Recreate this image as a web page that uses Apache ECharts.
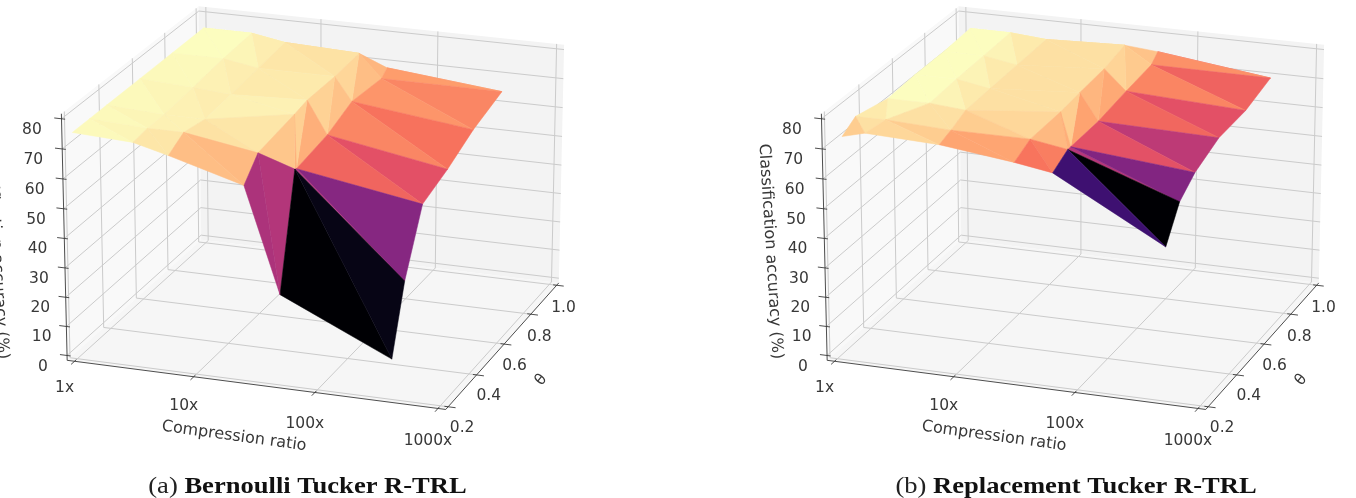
<!DOCTYPE html>
<html><head><meta charset="utf-8">
<style>html,body{margin:0;background:#fff}#c{width:1356px;height:498px}</style>
<script src="https://cdn.jsdelivr.net/npm/echarts@6/dist/echarts.min.js"></script>
</head><body><div id="c"></div><script>
// Surface samples, one row per theta sweep (back to front), one column per compression setting.
// Compression is stored as log10 of the ratio.
const thetaA=[
[1,1,1,1,1,.961],[1,1,1,1,.9415,.961],[.8,.8,.8,.8,.7025,.761],[.6,.6,.6,.6,.522,.561],
[.4,.4,.4,.478,.334,.38],[.3,.3,.3,.3,.3,.3],[.2,.2,.2,.2,.2,.2]];
const ratioA=[
[0,.42,.71,1.35,1.59,2.61],[0,.42,.71,1.35,1.613,2.61],[0,.44,.74,1.39,1.655,2.6],[0,.45,.77,1.41,1.675,2.62],
[0,.48,.82,1.46,1.66,2.63],[0,.48,.78,1.39,1.69,2.585],[0,.5,.79,1.405,1.695,2.605]];
const accuracyA=[
[75,75,73,72,68,66],[75,75,73,72,67,66],[75,75,73,73,70,62],[75,74,73,74,67,58],
[75,74,74,75,64.4,55],[75,74,74,70,66,33],[75,74,71,64,29,12]];
const thetaB=[
[.961,.961,.961,.98,1,.961],[.961,.961,.961,.98,.883,.961],[.78,.78,.761,.8,.689,.761],[.6,.6,.58,.62,.527,.561],
[.42,.42,.42,.478,.3,.361],[.3,.3,.3,.3,.3,.3],[.2,.2,.2,.2,.2,.2]];
const ratioB=[
[.11,.46,.77,1.42,1.68,2.68],[.11,.46,.77,1.42,1.766,2.68],[.13,.47,.78,1.47,1.79,2.7],[.13,.48,.79,1.49,1.76,2.71],
[.15,.5,.8,1.51,1.82,2.75],[.05,.3,.84,1.49,1.795,2.7],[.08,.27,.88,1.49,1.8,2.71]];
const accuracyB=[
[77,77,76,76,74,71],[77,77,76,76,75,71],[77,77,76,76,74.7,69],[77,77,76,76,71.75,69],
[77,77,76,76,74,67],[76,76,75,75,73,60],[74,76,75,72,70,50]];
const ratioTicks=[0,1,2,3],ratioLabels=['1x','10x','100x','1000x'];
const thetaTicks=[.2,.4,.6,.8,1],thetaLabels=['0.2','0.4','0.6','0.8','1.0'];
const accuracyTicks=[0,10,20,30,40,50,60,70,80];

// Perspective camera; the hidden value axes carry the projection plane onto the page.
const cam={elev:22,azim:-70.5,dist:15,sx:4970,sy:4390,cx:318,cy:201,dx:760};
const lim={x:[-.0625,3.0625],y:[.18333,1.01667],z:[-1.67,81.67]};
const k=1.8294640721620434*25/24/Math.sqrt(41),B=[4*k,4*k*.95,3*k];
const rad=Math.PI/180,ce=Math.cos(cam.elev*rad),se=Math.sin(cam.elev*rad),ca=Math.cos(cam.azim*rad),sa=Math.sin(cam.azim*rad);
const W=[ca*ce,sa*ce,se],E=[B[0]/2+cam.dist*W[0],B[1]/2+cam.dist*W[1],B[2]/2+cam.dist*W[2]];
const cross=(a,b)=>[a[1]*b[2]-a[2]*b[1],a[2]*b[0]-a[0]*b[2],a[0]*b[1]-a[1]*b[0]];
const dot=(a,b)=>a[0]*b[0]+a[1]*b[1]+a[2]*b[2];
let U=cross([0,0,1],W);const ul=Math.sqrt(dot(U,U));U=U.map(v=>v/ul);const V=cross(W,U);
function proj(x,y,z){
  const p=[(x-lim.x[0])/(lim.x[1]-lim.x[0])*B[0]-E[0],(y-lim.y[0])/(lim.y[1]-lim.y[0])*B[1]-E[1],(z-lim.z[0])/(lim.z[1]-lim.z[0])*B[2]-E[2]];
  const d=-dot(p,W);
  return [dot(p,U)/d,dot(p,V)/d,d];
}
// Magma colour ramp.
const magma=['#000004','#140e36','#3b0f70','#641a80','#8c2981','#b73779','#de4968','#f7705c','#fe9f6d','#fecf92','#fcfdbf'].map(h=>[1,3,5].map(i=>parseInt(h.substr(i,2),16)));
function cmap(t){
  t=Math.min(1,Math.max(0,t))*10;
  const i=Math.min(9,Math.floor(t)),f=t-i;
  return 'rgb('+[0,1,2].map(c=>Math.round(magma[i][c]+(magma[i+1][c]-magma[i][c])*f)).join(',')+')';
}
function panel(gi,ratio,theta,acc,titleDx){
  const [x0,x1]=lim.x,[y0,y1]=lim.y,[z0,z1]=lim.z;
  const panes=[
    [[x0,y0,z0],[x0,y1,z0],[x0,y1,z1],[x0,y0,z1],'#f9f9f9'],
    [[x0,y1,z0],[x1,y1,z0],[x1,y1,z1],[x0,y1,z1],'#f3f3f3'],
    [[x0,y0,z0],[x1,y0,z0],[x1,y1,z0],[x0,y1,z0],'#f6f6f6']];
  const grid=[];
  ratioTicks.forEach(x=>grid.push([x,y0,z0,x,y1,z0],[x,y1,z0,x,y1,z1]));
  thetaTicks.forEach(y=>grid.push([x0,y,z0,x1,y,z0],[x0,y,z0,x0,y,z1]));
  accuracyTicks.forEach(z=>grid.push([x0,y1,z,x1,y1,z],[x0,y0,z,x0,y1,z]));
  const ax=[[x0,y0,z0,x1,y0,z0],[x1,y0,z0,x1,y1,z0],[x0,y0,z0,x0,y0,z1]];
  ratioTicks.forEach(x=>ax.push([x,y0-.02,z0,x,y0+.01,z0]));
  thetaTicks.forEach(y=>ax.push([x1-.03,y,z0,x1+.06,y,z0]));
  accuracyTicks.forEach(z=>ax.push([x0-.06,y0,z,x0+.03,y0,z]));
  const labels=[];
  ratioTicks.forEach((x,i)=>labels.push([x,y0,z0,-10,27+i*2,ratioLabels[i],0,15.5]));
  thetaTicks.forEach((y,i)=>labels.push([x1,y,z0,14-9*(y-.2),21+2.5*(y-.2),thetaLabels[i],0,15.5]));
  accuracyTicks.forEach(z=>labels.push([x0,y0,z,-24-z*.07,11,String(z),0,15.5]));
  labels.push([1.55,y0,z0,-26,51,'Compression ratio',-7.8,16]);
  labels.push([x1,.6,z0,37,36,'θ',50,15.5]);
  labels.push([x0,y0,40,titleDx,13,'Classification accuracy (%)',-86.4,16]);
  const tris=[];
  const pt=(r,c)=>[ratio[r][c],theta[r][c],acc[r][c]];
  for(let c=0;c<5;c++)for(let r=0;r<6;r++){
    const a=pt(r,c),b=pt(r,c+1),e=pt(r+1,c+1),d=pt(r+1,c);
    tris.push([a,b,e],[a,d,e]);
  }
  const mean=t=>(t[0][2]+t[1][2]+t[2][2])/3;
  const means=tris.map(mean),vmin=Math.min(...means),vmax=Math.max(...means);
  const depth=t=>proj(...t[0])[2]+proj(...t[1])[2]+proj(...t[2])[2];
  tris.sort((p,q)=>depth(q)-depth(p));
  const poly=(pts,fill,stroke)=>({type:'polygon',shape:{points:pts},style:{fill,stroke:stroke||null,lineWidth:stroke?.5:0}});
  const base={type:'custom',coordinateSystem:'cartesian2d',xAxisIndex:gi,yAxisIndex:gi,silent:true,clip:false};
  const seg=(q,api,stroke,lw)=>{
    const a=api.coord(proj(q[0],q[1],q[2])),b=api.coord(proj(q[3],q[4],q[5]));
    return {type:'line',shape:{x1:a[0],y1:a[1],x2:b[0],y2:b[1]},style:{stroke,lineWidth:lw}};
  };
  return [
    {...base,z:1,data:panes.map((_,i)=>[i]),renderItem:(p,api)=>{const q=panes[p.dataIndex];return poly(q.slice(0,4).map(v=>api.coord(proj(...v))),q[4]);}},
    {...base,z:2,data:grid.map((_,i)=>[i]),renderItem:(p,api)=>seg(grid[p.dataIndex],api,'#cbcbcb',1)},
    {...base,z:3,data:ax.map((_,i)=>[i]),renderItem:(p,api)=>seg(ax[p.dataIndex],api,'#3a3a3a',.9)},
    {...base,z:4,data:tris.map((_,i)=>[i]),renderItem:(p,api)=>{const t=tris[p.dataIndex],col=cmap((mean(t)-vmin)/(vmax-vmin));return poly(t.map(v=>api.coord(proj(...v))),col,col);}},
    {...base,z:5,data:labels.map((_,i)=>[i]),renderItem:(p,api)=>{
      const q=labels[p.dataIndex],a=api.coord(proj(q[0],q[1],q[2]));
      return {type:'text',x:a[0]+q[3],y:a[1]+q[4],rotation:q[6]*rad,style:{text:q[5],fill:'#383838',font:q[7]+'px "DejaVu Sans"',align:'center',verticalAlign:'middle'}};
    }}
  ];
}
const chart=echarts.init(document.getElementById('c'));
const xAx=(off,gi)=>({type:'value',show:false,gridIndex:gi,min:-cam.cx/cam.sx,max:(1356-off-cam.cx)/cam.sx});
const yAx=gi=>({type:'value',show:false,gridIndex:gi,min:(cam.cy-498)/cam.sy,max:cam.cy/cam.sy});
const caption=(tag,name,cx)=>({type:'text',x:cx,y:487,scaleX:1.165,silent:true,style:{
  text:'{r|'+tag+' }{b|'+name+'}',align:'center',verticalAlign:'middle',
  rich:{r:{fontFamily:'Liberation Serif',fontSize:22.8,fill:'#222'},b:{fontFamily:'Liberation Serif',fontSize:22.8,fontWeight:'bold',fill:'#111'}}}});
chart.setOption({
  animation:false,
  grid:[{left:0,top:0,width:1356,height:498},{left:cam.dx,top:0,width:1356-cam.dx,height:498}],
  xAxis:[xAx(0,0),xAx(cam.dx,1)],
  yAxis:[yAx(0),yAx(1)],
  graphic:[caption('(a)','Bernoulli Tucker R-TRL',307.5),caption('(b)','Replacement Tucker R-TRL',1076)],
  series:[...panel(0,ratioA,thetaA,accuracyA,-68),...panel(1,ratioB,thetaB,accuracyB,-54)]
});
</script></body></html>
